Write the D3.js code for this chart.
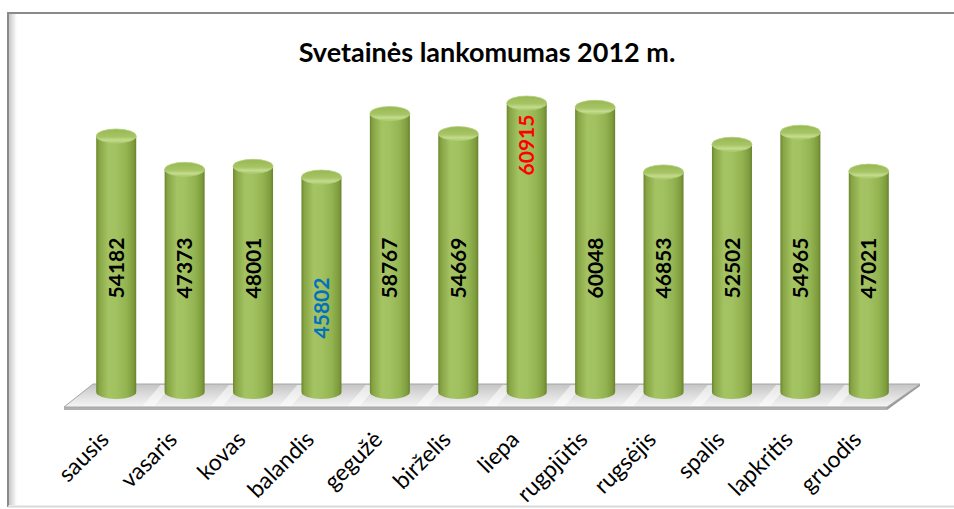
<!DOCTYPE html>
<html>
<head>
<meta charset="utf-8">
<script src="https://cdn.jsdelivr.net/npm/d3@7"></script>
<style>
  body { margin: 0; background: #fff; }
  svg { display: block; }
</style>
</head>
<body>
<div id="chart"></div>
<script>
// Duomenys
const title = "Svetainės lankomumas 2012 m.";
const months = ["sausis", "vasaris", "kovas", "balandis", "gegužė", "birželis",
                "liepa", "rugpjūtis", "rugsėjis", "spalis", "lapkritis", "gruodis"];
const visits = [54182, 47373, 48001, 45802, 58767, 54669, 60915, 60048, 46853, 52502, 54965, 47021];

const width = 954, height = 509;
const fontFamily = "Lato, 'Open Sans', sans-serif";

const svg = d3.select("#chart").append("svg")
    .attr("width", width)
    .attr("height", height);

const defs = svg.append("defs");

// Cilindro šonų gradientas
const bodyGrad = defs.append("linearGradient").attr("id", "cylBody")
    .attr("x1", "0%").attr("x2", "100%").attr("y1", "0%").attr("y2", "0%");
[[0, "#6b872f"], [0.07, "#86a443"], [0.3, "#a4c363"], [0.5, "#a2c160"],
 [0.75, "#94b452"], [0.93, "#7e9c3d"], [1, "#67822d"]]
    .forEach(s => bodyGrad.append("stop").attr("offset", s[0]).attr("stop-color", s[1]));

// Viršaus gradientas
const topGrad = defs.append("linearGradient").attr("id", "cylTop")
    .attr("x1", "0%").attr("x2", "0%").attr("y1", "0%").attr("y2", "100%");
[[0, "#98b853"], [0.55, "#a6c464"], [0.8, "#c4dc8e"], [1, "#a9c768"]]
    .forEach(s => topGrad.append("stop").attr("offset", s[0]).attr("stop-color", s[1]));

// Grindų gradientas
const floorGrad = defs.append("linearGradient").attr("id", "floorGrad")
    .attr("x1", "0%").attr("x2", "0%").attr("y1", "0%").attr("y2", "100%");
[[0, "#c4c4c4"], [0.5, "#dedede"], [1, "#f5f5f5"]]
    .forEach(s => floorGrad.append("stop").attr("offset", s[0]).attr("stop-color", s[1]));

// Kairio krašto šešėlis
const shadowGrad = defs.append("linearGradient").attr("id", "leftShadow")
    .attr("x1", "0%").attr("x2", "100%");
[[0, "#c8c8c8"], [1, "#ffffff"]]
    .forEach(s => shadowGrad.append("stop").attr("offset", s[0]).attr("stop-color", s[1]));

// Rėmelis
svg.append("rect")
    .attr("x", 9).attr("y", 14).attr("width", 8).attr("height", 491)
    .attr("fill", "url(#leftShadow)");
svg.append("line").attr("x1", 8).attr("x2", 8).attr("y1", 12).attr("y2", 507)
    .attr("stroke", "#8a8a8a").attr("stroke-width", 2);
svg.append("line").attr("x1", 7).attr("x2", 954).attr("y1", 13).attr("y2", 13)
    .attr("stroke", "#8a8a8a").attr("stroke-width", 2);
svg.append("line").attr("x1", 8).attr("x2", 954).attr("y1", 506.5).attr("y2", 506.5)
    .attr("stroke", "#d9d9d9").attr("stroke-width", 2);

// Pavadinimas
svg.append("text")
    .attr("x", 487).attr("y", 62)
    .attr("text-anchor", "middle")
    .attr("font-family", fontFamily)
    .attr("font-weight", "bold")
    .attr("font-size", 27)
    .attr("fill", "#000")
    .text(title);

// Skalės
const x = d3.scaleBand()
    .domain(months)
    .range([82, 903])
    .padding(0);

const y = d3.scaleLinear()
    .domain([0, 70000])
    .range([401.5, 58.5]);

const rx = x.bandwidth() * 0.585 / 2;
const ry = 7;
const floorY = 392;

// Grindys (3D plokštuma)
const fl = { bl: [64, 407], br: [887, 407], tr: [920, 384], tl: [93, 384] };
svg.append("path")
    .attr("d", `M${fl.bl[0]},${fl.bl[1]} L${fl.br[0]},${fl.br[1]} L${fl.br[0]},${fl.br[1] + 3} L${fl.bl[0]},${fl.bl[1] + 3} Z`)
    .attr("fill", "#b0b0b0");
svg.append("path")
    .attr("d", `M${fl.br[0]},${fl.br[1]} L${fl.tr[0]},${fl.tr[1]} L${fl.tr[0]},${fl.tr[1] + 2} L${fl.br[0]},${fl.br[1] + 3} Z`)
    .attr("fill", "#9a9a9a");
svg.append("path")
    .attr("d", `M${fl.tl[0]},${fl.tl[1]} L${fl.tr[0]},${fl.tr[1]} L${fl.br[0]},${fl.br[1]} L${fl.bl[0]},${fl.bl[1]} Z`)
    .attr("fill", "url(#floorGrad)")
    .attr("stroke", "#a6a6a6")
    .attr("stroke-width", 1);

// Šviesūs ruožai tarp stulpelių
svg.append("g")
    .selectAll("path")
    .data(months.slice(0, -1))
    .join("path")
    .attr("d", d => {
        const cx = x(d) + x.bandwidth();
        return `M${cx - 8},${fl.bl[1] - 1} L${cx + 4},${fl.bl[1] - 1} L${cx + 22},${fl.tl[1] + 1} L${cx + 10},${fl.tl[1] + 1} Z`;
    })
    .attr("fill", "#ffffff")
    .attr("opacity", 0.55);

// Cilindrai
const bars = svg.append("g")
    .selectAll("g")
    .data(months.map((m, i) => ({ month: m, value: visits[i] })))
    .join("g")
    .attr("class", "bar");

bars.append("path")
    .attr("d", d => {
        const cx = x(d.month) + x.bandwidth() / 2;
        const yt = y(d.value);
        return `M${cx - rx},${yt} L${cx - rx},${floorY} A${rx},${ry} 0 0 0 ${cx + rx},${floorY} L${cx + rx},${yt} Z`;
    })
    .attr("fill", "url(#cylBody)");

bars.append("ellipse")
    .attr("cx", d => x(d.month) + x.bandwidth() / 2)
    .attr("cy", d => y(d.value))
    .attr("rx", rx)
    .attr("ry", ry)
    .attr("fill", "url(#cylTop)")
    .attr("stroke", "#b3cf78")
    .attr("stroke-width", 0.8);

// Reikšmių etiketės
const maxV = d3.max(visits), minV = d3.min(visits);
bars.append("text")
    .attr("transform", d => {
        const cx = x(d.month) + x.bandwidth() / 2;
        let ly = 268;
        if (d.value === maxV) ly = y(d.value) + 42;
        if (d.value === minV) ly = 308;
        return `translate(${cx},${ly}) rotate(-90)`;
    })
    .attr("dy", "0.36em")
    .attr("text-anchor", "middle")
    .attr("font-family", fontFamily)
    .attr("font-weight", "bold")
    .attr("font-size", 21)
    .attr("fill", d => d.value === maxV ? "#ff0000" : d.value === minV ? "#0070c0" : "#000")
    .text(d => d.value);

// Mėnesių pavadinimai
svg.append("g")
    .selectAll("text")
    .data(months)
    .join("text")
    .attr("transform", d => `translate(${x(d) + x.bandwidth() / 2 - 6},${441}) rotate(-45)`)
    .attr("text-anchor", "end")
    .attr("font-family", fontFamily)
    .attr("font-size", 23)
    .attr("fill", "#000")
    .text(d => d);
</script>
</body>
</html>
